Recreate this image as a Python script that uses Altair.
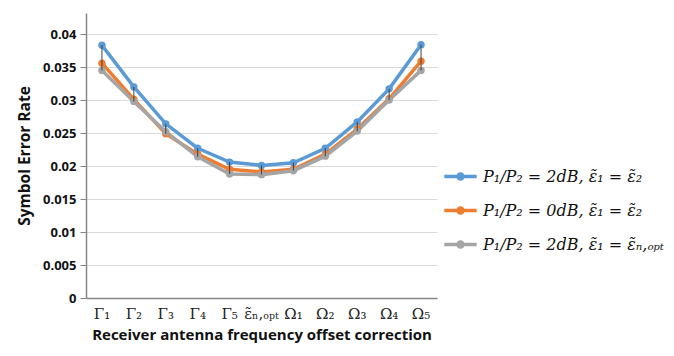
import altair as alt
import pandas as pd

categories = ["Γ₁", "Γ₂", "Γ₃", "Γ₄", "Γ₅", "ε̃ₙ,ₒₚₜ", "Ω₁", "Ω₂", "Ω₃", "Ω₄", "Ω₅"]
series_names = [
    "P₁/P₂ = 2dB, ε̃₁ = ε̃₂",
    "P₁/P₂ = 0dB, ε̃₁ = ε̃₂",
    "P₁/P₂ = 2dB, ε̃₁ = ε̃ₙ,ₒₚₜ",
]
blue = [0.0383, 0.0320, 0.0264, 0.0227, 0.0206, 0.0201, 0.0205, 0.0227, 0.0267, 0.0317, 0.0384]
orange = [0.0356, 0.0301, 0.0249, 0.0218, 0.0195, 0.0191, 0.0195, 0.0218, 0.0256, 0.0302, 0.0359]
gray = [0.0345, 0.0298, 0.0252, 0.0214, 0.0188, 0.0187, 0.0193, 0.0215, 0.0253, 0.0300, 0.0345]
colors = ["#5b9bd5", "#ed7d31", "#a5a5a5"]
y_ticks = [0, 0.005, 0.01, 0.015, 0.02, 0.025, 0.03, 0.035, 0.04]

rows = []
for name, vals in zip(series_names, [blue, orange, gray]):
    for c, v in zip(categories, vals):
        rows.append({"cat": c, "series": name, "value": v})
df = pd.DataFrame(rows)

err = pd.DataFrame({
    "cat": categories,
    "lo": [min(a, b, c) for a, b, c in zip(blue, orange, gray)],
    "hi": [max(a, b, c) for a, b, c in zip(blue, orange, gray)],
})

legend_path = ("M-1,-0.11L1,-0.11L1,0.11L-1,0.11Z "
               "M-0.26,0A0.26,0.26,0,1,1,0.26,0A0.26,0.26,0,1,1,-0.26,0Z")

x_axis = alt.Axis(title="Receiver antenna frequency offset correction",
                  labelAngle=0, labelFont="DejaVu Serif", labelFontSize=15,
                  labelColor="#222", ticks=False, labelPadding=8,
                  titleFont="Open Sans", titleFontSize=15, titleFontWeight="bold",
                  titleColor="#111", titlePadding=6,
                  domainColor="#868686", domainWidth=1.5, grid=False)
x_scale = alt.Scale(paddingInner=0, paddingOuter=0)
y_scale = alt.Scale(domain=[0, 0.0432], nice=False, zero=True)
y_axis = alt.Axis(title="Symbol Error Rate", values=y_ticks, labelOverlap=False,
                  format="~g", labelFont="Open Sans", labelFontSize=13, labelFontWeight="bold",
                  labelColor="#111", tickSize=6, tickColor="#868686", labelPadding=4,
                  titleFont="Open Sans", titleFontSize=15.5, titleFontWeight="bold", titleColor="#111",
                  titlePadding=10, domainColor="#868686", domainWidth=1.5,
                  grid=True, gridColor="#d9d9d9", gridWidth=1.2)

color_enc = alt.Color("series:N", sort=series_names,
                      scale=alt.Scale(domain=series_names, range=colors),
                      legend=alt.Legend(title=None, orient="none", legendX=358, legendY=147,
                                        symbolType=legend_path, symbolSize=1050,
                                        symbolStrokeWidth=0, labelFont="DejaVu Serif",
                                        labelFontStyle="italic", labelFontSize=16,
                                        labelColor="#111", labelLimit=400, rowPadding=9,
                                        labelOffset=6))

X = alt.X("cat:N", sort=categories, scale=x_scale, axis=x_axis)

lines = alt.Chart(df).mark_line(strokeWidth=3.5).encode(
    x=X,
    y=alt.Y("value:Q", scale=y_scale, axis=y_axis),
    color=color_enc,
)

points = alt.Chart(df).mark_point(filled=True, size=55, opacity=1).encode(
    x=X,
    y=alt.Y("value:Q", scale=y_scale, axis=y_axis),
    color=color_enc,
)

errs = alt.Chart(err).mark_rule(color="#404040", strokeWidth=1).encode(
    x=X,
    y=alt.Y("lo:Q", scale=y_scale, axis=y_axis),
    y2="hi:Q",
)

chart = alt.layer(lines, points, errs).properties(
    width=351, height=285,
    background="white",
    autosize=alt.AutoSizeParams(type="none"),
    padding={"left": 78, "top": 5, "right": 229, "bottom": 50},
).configure_view(stroke=None)

chart.save("out.html", embed_options={"renderer": "svg", "actions": False})
